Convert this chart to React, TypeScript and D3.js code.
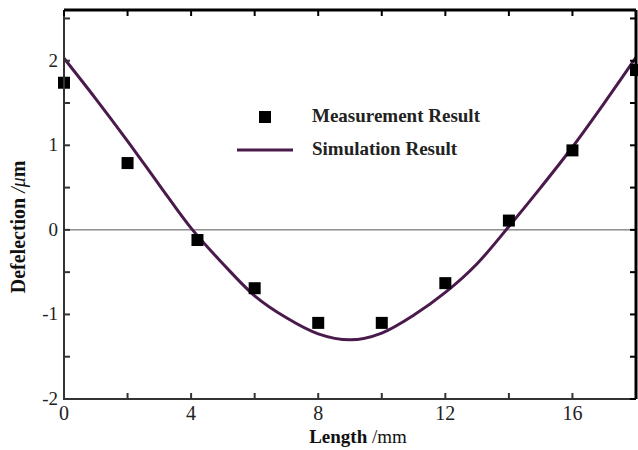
import React from 'react';
import * as d3 from 'd3';

const measX = [0, 2, 4.2, 6, 8, 10, 12, 14, 16, 18];
const measY = [1.74, 0.79, -0.12, -0.69, -1.1, -1.1, -0.63, 0.11, 0.94, 1.89];

const simX = [0, 1, 2, 3, 4, 5, 6, 7, 8, 9, 10, 11, 12, 13, 14, 15, 16, 17, 18];
const simY = [2.03, 1.55, 1.05, 0.53, 0.02, -0.4, -0.78, -1.04, -1.23, -1.3, -1.22, -1.01, -0.74, -0.4, 0.04, 0.5, 0.98, 1.5, 2.04];

const xTicks = [0, 4, 8, 12, 16];
const xMinor = [2, 6, 10, 14];
const yTicks = [-2, -1, 0, 1, 2];
const yMinor = [-1.5, -0.5, 0.5, 1.5, 2.5];

const W = 638;
const H = 450;
const left = 64;
const right = 636;
const top = 10;
const bottom = 399;

const App = () => {
  const x = d3.scaleLinear().domain([0, 18]).range([left, right]);
  const y = d3.scaleLinear().domain([-2, 2.6]).range([bottom, top]);
  const line = d3.line<number>()
    .x((_, i) => x(simX[i]))
    .y(d => y(d))
    .curve(d3.curveMonotoneX);
  const purple = '#4a1a4c';
  const serif = '"Liberation Serif", "Times New Roman", serif';

  return (
    <svg width={W} height={H} style={{ position: 'absolute', left: 0, top: 0 }} fontFamily={serif}>
      <rect width={W} height={H} fill="#fff" />
      {/* zero line */}
      <line x1={left} x2={right} y1={y(0)} y2={y(0)} stroke="#555" strokeWidth={1} />
      {/* simulation curve */}
      <path d={line(simY) || ''} fill="none" stroke={purple} strokeWidth={3} />
      {/* measurements */}
      {measX.map((mx, i) => (
        <rect key={i} x={x(mx) - 6} y={y(measY[i]) - 6} width={12} height={12} fill="#000" />
      ))}
      {/* frame */}
      <line x1={left} x2={right} y1={top} y2={top} stroke="#000" strokeWidth={3} />
      <line x1={right} x2={right} y1={top} y2={bottom} stroke="#000" strokeWidth={3} />
      <line x1={left} x2={left} y1={top} y2={bottom + 1} stroke="#333" strokeWidth={2} />
      <line x1={left} x2={right} y1={bottom} y2={bottom} stroke="#333" strokeWidth={2} />
      {/* x ticks */}
      {[...xTicks, ...xMinor].map(t => (
        <g key={'xt' + t}>
          <line x1={x(t)} x2={x(t)} y1={bottom} y2={bottom - 6} stroke="#333" strokeWidth={2} />
          <line x1={x(t)} x2={x(t)} y1={top} y2={top + 6} stroke="#000" strokeWidth={2} />
        </g>
      ))}
      {xTicks.map(t => (
        <text key={'xl' + t} x={x(t)} y={bottom + 21} textAnchor="middle" fontSize={20} fill="#222">{t}</text>
      ))}
      {/* y ticks */}
      {[...yTicks, ...yMinor].map(t => (
        <g key={'yt' + t}>
          <line x1={left} x2={left + 6} y1={y(t)} y2={y(t)} stroke="#333" strokeWidth={2} />
          <line x1={right} x2={right - 6} y1={y(t)} y2={y(t)} stroke="#000" strokeWidth={2} />
        </g>
      ))}
      {yTicks.map(t => (
        <text key={'yl' + t} x={left - 6} y={y(t) + 6} textAnchor="end" fontSize={19} fill="#222">{t}</text>
      ))}
      {/* axis titles */}
      <text x={358} y={443} textAnchor="middle" fontSize={19} fontWeight="bold" fill="#111">
        Length <tspan fontWeight="normal">/mm</tspan>
      </text>
      <text transform={`translate(25,${y(0) - 3}) rotate(-90)`} textAnchor="middle" fontSize={20} fontWeight="bold" fill="#111">
        Defelection <tspan fontStyle="italic" fontWeight="normal">/μ</tspan>m
      </text>
      {/* legend */}
      <rect x={259} y={111} width={12} height={12} fill="#000" />
      <text x={312} y={122} fontSize={19} fontWeight="bold" fill="#222">Measurement Result</text>
      <line x1={237} x2={293} y1={150} y2={150} stroke={purple} strokeWidth={3} />
      <text x={312} y={155} fontSize={19} fontWeight="bold" fill="#222">Simulation Result</text>
    </svg>
  );
};

export default App;
